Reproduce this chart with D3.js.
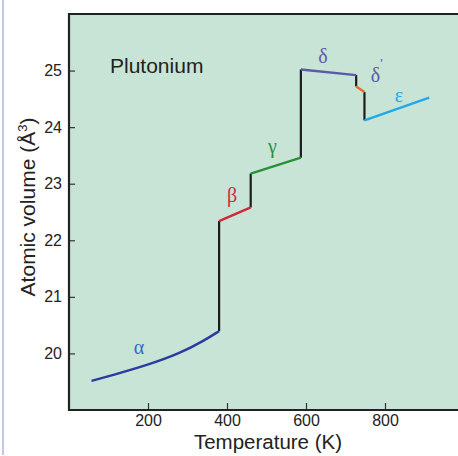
<!DOCTYPE html>
<html>
<head>
<meta charset="utf-8">
<script src="https://cdn.jsdelivr.net/npm/d3@7"></script>
<style>
  body { margin: 0; background: #fff; }
  svg { display: block; }
</style>
</head>
<body>
<script>
// phase segments of plutonium, [temperature K, atomic volume A^3]
var alphaPts = [[57, 19.516], [112, 19.62], [197, 19.79], [281, 20.0], [344, 20.235], [380, 20.394]];
var betaPts = [[380, 22.34], [460, 22.58]];
var gammaPts = [[460, 23.18], [587, 23.46]];
var deltaPts = [[587, 25.02], [727, 24.92]];
var deltaPrimePts = [[727, 24.72], [748, 24.62]];
var epsilonPts = [[748, 24.12], [912, 24.52]];
// black vertical jumps between phases
var jumps = [[380, 20.394, 22.34], [460, 22.58, 23.18], [587, 23.46, 25.02], [727, 24.92, 24.72], [748, 24.62, 24.12]];
var xTicks = [200, 400, 600, 800];
var yTicks = [20, 21, 22, 23, 24, 25];

var width = 458;
var height = 456;

var pad = { top: 14, left: 69, bottom: 46 };

var svg = d3.select("body")
            .append("svg")
            .attr("width", width)
            .attr("height", height);

// thin frame line on the left edge
svg.append("line")
   .attr("x1", 3).attr("x2", 3)
   .attr("y1", 0).attr("y2", 455)
   .attr("stroke", "#aab6e0")
   .attr("stroke-width", 1.5);

var xScale = d3.scaleLinear()
               .domain([0, 1000])
               .range([pad.left, pad.left + 395]);
var yScale = d3.scaleLinear()
               .domain([19, 26])
               .range([height - pad.bottom, pad.top]);

// plot background
svg.append("rect")
   .attr("x", xScale(0))
   .attr("y", yScale(26))
   .attr("width", width - xScale(0) + 10)
   .attr("height", yScale(19) - yScale(26))
   .attr("fill", "#c8e4d7");

// axes with inward ticks
var xAxis = d3.axisBottom(xScale)
              .tickValues(xTicks)
              .tickSize(-7)
              .tickSizeOuter(0)
              .tickPadding(5);
var yAxis = d3.axisLeft(yScale)
              .tickValues(yTicks)
              .tickFormat(d3.format("d"))
              .tickSize(-6)
              .tickSizeOuter(0)
              .tickPadding(7);

var gx = svg.append("g")
            .attr("transform", "translate(0," + yScale(19) + ")")
            .call(xAxis);
var gy = svg.append("g")
            .attr("transform", "translate(" + xScale(0) + ",0)")
            .call(yAxis);

[gx, gy].forEach(function(g){
  g.select(".domain").remove();
  g.selectAll(".tick line").attr("stroke", "#333").attr("stroke-width", 1.2);
  g.selectAll(".tick text")
   .attr("fill", "#222")
   .style("font-family", "'Liberation Sans', Arial, sans-serif")
   .style("font-size", "16px");
});

// frame: left, top, bottom
svg.append("path")
   .attr("d", "M" + (width + 5) + "," + yScale(26) + "H" + xScale(0) + "V" + yScale(19) + "H" + (width + 5))
   .attr("fill", "none")
   .attr("stroke", "#222")
   .attr("stroke-width", 2.2);

var line = d3.line()
             .x(function(d){ return xScale(d[0]); })
             .y(function(d){ return yScale(d[1]); });
var curve = d3.line()
              .curve(d3.curveBasis)
              .x(function(d){ return xScale(d[0]); })
              .y(function(d){ return yScale(d[1]); });

svg.selectAll("line.jump")
   .data(jumps)
   .enter()
   .append("line")
   .attr("class", "jump")
   .attr("x1", function(d){ return xScale(d[0]); })
   .attr("x2", function(d){ return xScale(d[0]); })
   .attr("y1", function(d){ return yScale(d[1]); })
   .attr("y2", function(d){ return yScale(d[2]); })
   .attr("stroke", "#1c1c1c")
   .attr("stroke-width", 2.2);

var phases = [
  { pts: alphaPts, color: "#2b3c9f", gen: curve },
  { pts: betaPts, color: "#cf2a3c", gen: line },
  { pts: gammaPts, color: "#2a8f3a", gen: line },
  { pts: deltaPts, color: "#5b5aa8", gen: line },
  { pts: deltaPrimePts, color: "#f0692a", gen: line },
  { pts: epsilonPts, color: "#1ea9ea", gen: line }
];

svg.selectAll("path.phase")
   .data(phases)
   .enter()
   .append("path")
   .attr("class", "phase")
   .attr("d", function(d){ return d.gen(d.pts); })
   .attr("fill", "none")
   .attr("stroke", function(d){ return d.color; })
   .attr("stroke-width", 2.4)
   .attr("stroke-linecap", "butt");

// greek labels
var labels = [
  { t: "α", x: 139, y: 346.5, c: "#2f6cc0" },
  { t: "β", x: 232, y: 195, c: "#cf2a3c" },
  { t: "γ", x: 272.5, y: 146, c: "#2a8f3a" },
  { t: "δ", x: 323, y: 56, c: "#5b5aa8" },
  { t: "δ", x: 375.5, y: 74.5, c: "#5b5aa8" },
  { t: "ε", x: 399, y: 95, c: "#1ea9ea" }
];
svg.selectAll("text.greek")
   .data(labels)
   .enter()
   .append("text")
   .attr("class", "greek")
   .attr("x", function(d){ return d.x; })
   .attr("y", function(d){ return d.y; })
   .attr("text-anchor", "middle")
   .attr("dominant-baseline", "central")
   .attr("fill", function(d){ return d.c; })
   .style("font-family", "'Liberation Serif', 'Times New Roman', serif")
   .style("font-size", "20px")
   .text(function(d){ return d.t; });

// prime on delta'
svg.append("text")
   .attr("x", 381.5)
   .attr("y", 68)
   .attr("text-anchor", "middle")
   .attr("fill", "#5b5aa8")
   .style("font-family", "'Liberation Sans', Arial, sans-serif")
   .style("font-size", "13px")
   .text("'");

svg.append("text")
   .attr("x", 110)
   .attr("y", 73)
   .attr("fill", "#222")
   .style("font-family", "'Liberation Sans', Arial, sans-serif")
   .style("font-size", "21px")
   .text("Plutonium");

svg.append("text")
   .attr("x", 268)
   .attr("y", 448.5)
   .attr("text-anchor", "middle")
   .attr("fill", "#222")
   .style("font-family", "'Liberation Sans', Arial, sans-serif")
   .style("font-size", "20.5px")
   .text("Temperature (K)");

var yl = svg.append("text")
            .attr("transform", "translate(35," + 207 + ") rotate(-90)")
            .attr("text-anchor", "middle")
            .attr("fill", "#222")
            .style("font-family", "'Liberation Sans', Arial, sans-serif")
            .style("font-size", "21px");
yl.append("tspan").text("Atomic volume (Å");
yl.append("tspan").attr("dy", -8).style("font-size", "13px").text("3");
yl.append("tspan").attr("dy", 8).text(")");
</script>
</body>
</html>
